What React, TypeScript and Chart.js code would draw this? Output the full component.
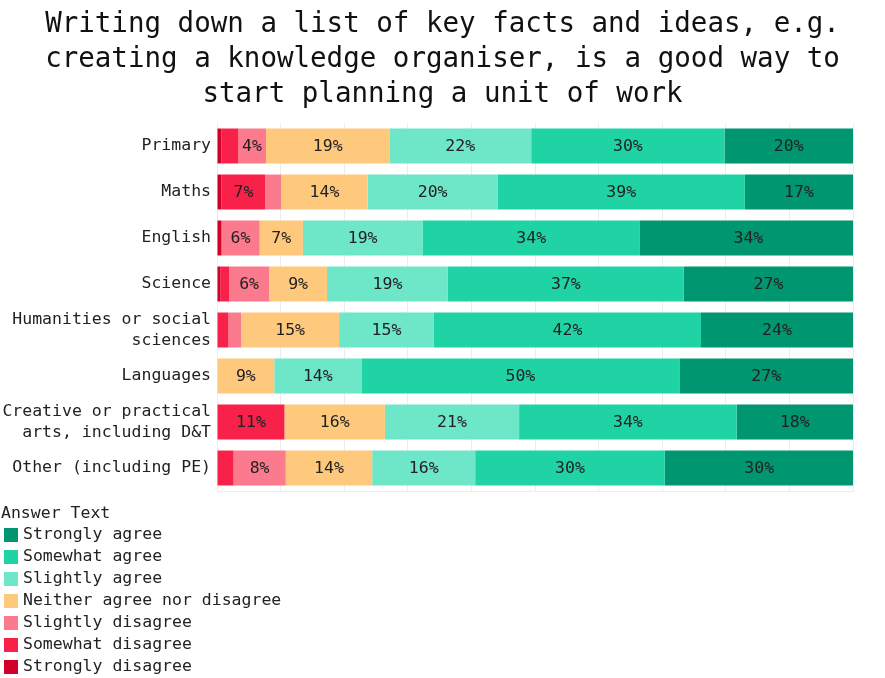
import React, { useEffect, useRef } from "react";
import { Chart, registerables } from "chart.js";

Chart.register(...registerables);

const titleLines = [
  "Writing down a list of key facts and ideas, e.g.",
  "creating a knowledge organiser, is a good way to",
  "start planning a unit of work",
];

const categories: (string | string[])[] = [
  "Primary",
  "Maths",
  "English",
  "Science",
  ["Humanities or social", "sciences"],
  "Languages",
  ["Creative or practical", "arts, including D&T"],
  "Other (including PE)",
];

const seriesNames = [
  "Strongly disagree",
  "Somewhat disagree",
  "Slightly disagree",
  "Neither agree nor disagree",
  "Slightly agree",
  "Somewhat agree",
  "Strongly agree",
];

const seriesColors = [
  "#D00028",
  "#F8214A",
  "#FB7A8E",
  "#FFC97D",
  "#6EE6C8",
  "#1FD3A5",
  "#009670",
];

const stronglyDisagree = [0.7, 0.7, 0.7, 0.5, 0, 0, 0, 0];
const somewhatDisagree = [2.6, 6.9, 0, 1.4, 1.8, 0, 10.6, 2.6];
const slightlyDisagree = [4.4, 2.5, 6.0, 6.3, 2.0, 0, 0, 8.2];
const neither = [19.4, 13.6, 6.8, 9.1, 15.4, 9.0, 15.8, 13.6];
const slightlyAgree = [22.3, 20.4, 18.8, 19.0, 14.9, 13.7, 21.1, 16.2];
const somewhatAgree = [30.4, 38.9, 34.2, 37.1, 42.0, 50.0, 34.2, 29.8];
const stronglyAgree = [20.2, 17.0, 34.1, 26.6, 23.9, 27.3, 18.3, 29.7];

const seriesValues = [
  stronglyDisagree,
  somewhatDisagree,
  slightlyDisagree,
  neither,
  slightlyAgree,
  somewhatAgree,
  stronglyAgree,
];

const legendTitle = "Answer Text";
const FONT = "'DejaVu Sans Mono', 'Liberation Mono', monospace";

const titlePlugin = {
  id: "customTitle",
  afterDraw(chart: any) {
    const ctx = chart.ctx;
    ctx.save();
    ctx.font = `27.5px ${FONT}`;
    ctx.fillStyle = "#111";
    ctx.textAlign = "center";
    ctx.textBaseline = "middle";
    titleLines.forEach((line, i) => {
      ctx.fillText(line, chart.width / 2, 25 + i * 35);
    });
    ctx.restore();
  },
};

const barLabelPlugin = {
  id: "barLabels",
  afterDatasetsDraw(chart: any) {
    const ctx = chart.ctx;
    ctx.save();
    ctx.font = `16.5px ${FONT}`;
    ctx.fillStyle = "#222";
    ctx.textAlign = "center";
    ctx.textBaseline = "middle";
    chart.data.datasets.forEach((ds: any, di: number) => {
      const meta = chart.getDatasetMeta(di);
      meta.data.forEach((el: any, i: number) => {
        const v = ds.data[i];
        if (v >= 3.5) {
          const props = el.getProps(["x", "y", "base"], true);
          const cx = (props.x + props.base) / 2;
          ctx.fillText(`${Math.round(v)}%`, cx, props.y + 1);
        }
      });
    });
    ctx.restore();
  },
};

const legendPlugin = {
  id: "vertLegend",
  afterDraw(chart: any) {
    const ctx = chart.ctx;
    ctx.save();
    ctx.font = `16.5px ${FONT}`;
    ctx.textBaseline = "middle";
    ctx.textAlign = "left";
    ctx.fillStyle = "#222";
    ctx.fillText(legendTitle, 1, 514);
    const n = chart.data.datasets.length;
    for (let k = 0; k < n; k++) {
      const ds = chart.data.datasets[n - 1 - k];
      const y = 535 + k * 22;
      ctx.fillStyle = ds.backgroundColor;
      ctx.fillRect(4, y - 7, 14, 14);
      ctx.fillStyle = "#222";
      ctx.fillText(ds.label, 23, y);
    }
    ctx.restore();
  },
};

export default function App() {
  const ref = useRef<HTMLCanvasElement | null>(null);
  useEffect(() => {
    if (!ref.current) return;
    const chart = new Chart(ref.current, {
      type: "bar",
      data: {
        labels: categories,
        datasets: seriesNames.map((name, i) => ({
          label: name,
          data: seriesValues[i],
          backgroundColor: seriesColors[i],
          borderWidth: 0,
          barPercentage: 0.76,
          categoryPercentage: 1,
        })),
      },
      options: {
        indexAxis: "y",
        animation: false,
        responsive: true,
        maintainAspectRatio: false,
        layout: { padding: { left: 0, right: 32, top: 123, bottom: 187 } },
        plugins: {
          legend: { display: false },
          tooltip: { enabled: false },
          title: { display: false },
        },
        scales: {
          x: {
            stacked: true,
            min: 0,
            max: 100,
            ticks: { display: false, stepSize: 10 },
            grid: { color: "#ececec", drawTicks: false },
            border: { display: true, color: "#ececec" },
          },
          y: {
            stacked: true,
            grid: { display: false, drawTicks: false },
            border: { display: false },
            ticks: {
              color: "#222",
              font: { family: FONT, size: 16.5, lineHeight: 1.3 },
              padding: 6,
            },
            afterFit(scale: any) {
              scale.width = 217;
            },
          },
        },
      },
      plugins: [titlePlugin, barLabelPlugin, legendPlugin],
    } as any);
    return () => chart.destroy();
  }, []);
  return (
    <div style={{ position: "fixed", left: 0, top: 0, width: 885, height: 678, background: "#fff" }}>
      <canvas ref={ref} />
    </div>
  );
}
